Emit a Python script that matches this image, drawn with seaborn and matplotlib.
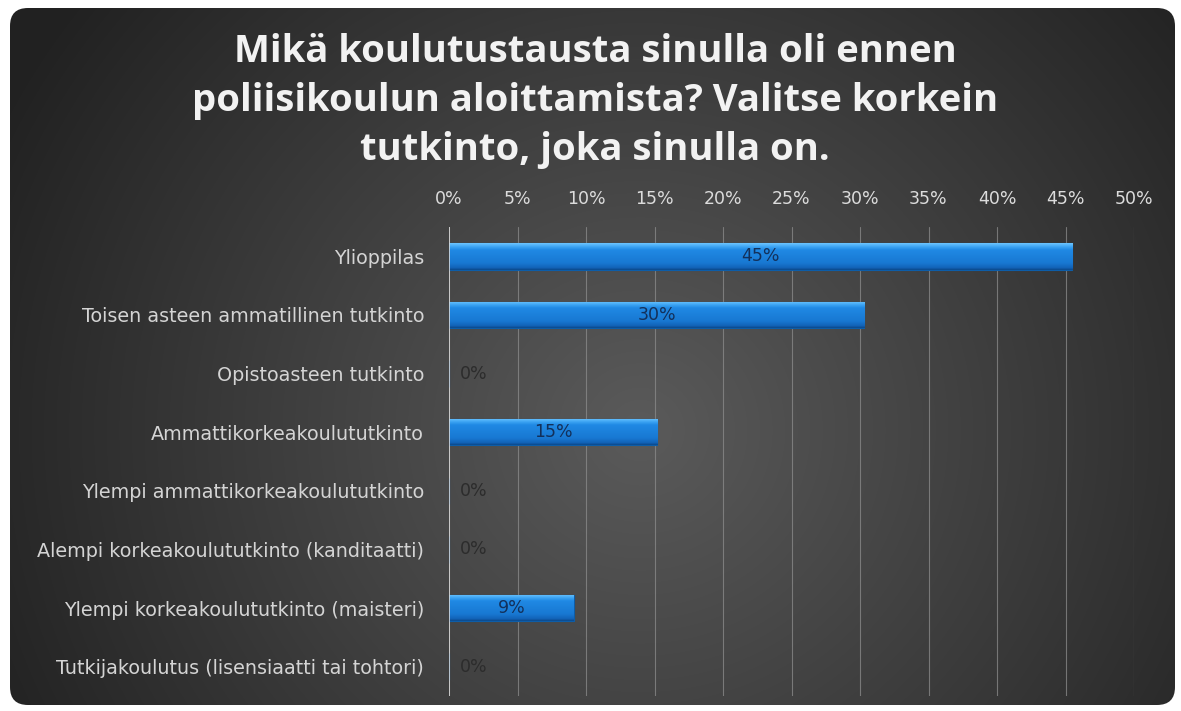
import numpy as np
import pandas as pd
import matplotlib
matplotlib.use("Agg")
import matplotlib.pyplot as plt
from matplotlib.patches import FancyBboxPatch
from matplotlib.colors import LinearSegmentedColormap
import seaborn as sns

categories = [
    "Ylioppilas",
    "Toisen asteen ammatillinen tutkinto",
    "Opistoasteen tutkinto",
    "Ammattikorkeakoulututkinto",
    "Ylempi ammattikorkeakoulututkinto",
    "Alempi korkeakoulututkinto (kanditaatti)",
    "Ylempi korkeakoulututkinto (maisteri)",
    "Tutkijakoulutus (lisensiaatti tai tohtori)",
]
values = [45.5, 30.3, 0.0, 15.2, 0.0, 0.0, 9.1, 0.0]
labels = ["45%", "30%", "0%", "15%", "0%", "0%", "9%", "0%"]
xticks = [0, 5, 10, 15, 20, 25, 30, 35, 40, 45, 50]
title = ("Mikä koulutustausta sinulla oli ennen\n"
         "poliisikoulun aloittamista? Valitse korkein\n"
         "tutkinto, joka sinulla on.")

df = pd.DataFrame({"cat": categories, "val": values})

sns.set_theme(style="white")
plt.rcParams['font.family'] = ['DejaVu Sans']

fig = plt.figure(figsize=(11.81, 7.11), dpi=100)
fig.patch.set_facecolor("white")

# background with radial gradient inside rounded rectangle
bg = fig.add_axes([0, 0, 1, 1], zorder=0)
bg.set_xlim(0, 1181)
bg.set_ylim(711, 0)
bg.axis("off")
yy, xx = np.mgrid[0:711, 0:1181]
r = np.sqrt(((xx - 640) / 640.0) ** 2 + ((yy - 430) / 620.0) ** 2)
g = np.clip(0.355 - 0.20 * r, 0.13, 0.40)
img = np.dstack([g, g, g])
im = bg.imshow(img, extent=(0, 1181, 711, 0), aspect="auto")
box = FancyBboxPatch((10, 8), 1165, 697, boxstyle="round,pad=0,rounding_size=18",
                     transform=bg.transData, facecolor="none", edgecolor="none")
bg.add_patch(box)
im.set_clip_path(box)

ax = fig.add_axes([449 / 1181, 1 - 696 / 711, (1134 - 449) / 1181, (696 - 227) / 711], zorder=1)
ax.patch.set_alpha(0)

sns.barplot(data=df, x="val", y="cat", orient="h", color="#1f86de", width=0.45,
            edgecolor="#0d5da8", linewidth=0.8, saturation=1, ax=ax, zorder=3)

ax.set_xlim(0, 50)
ax.set_xticks(xticks)
ax.set_xticklabels([f"{t}%" for t in xticks])
ax.xaxis.tick_top()
ax.tick_params(axis="x", length=0, pad=14, labelsize=12.5, labelcolor="#dcdcdc")
ax.tick_params(axis="y", length=0, pad=18, labelsize=13.8, labelcolor="#d4d4d4")
ax.set_xlabel("")
ax.set_ylabel("")
for s in ax.spines.values():
    s.set_visible(False)
ax.grid(axis="x", color="#8c8c8c", linewidth=0.8, alpha=0.75, zorder=0)
ax.grid(axis="y", visible=False)
ax.axvline(0, color="#d8d8d8", linewidth=1.2, zorder=4)

# bevel-like vertical gradient fill on each bar (clipped to the bar patch)
bar_cmap = LinearSegmentedColormap.from_list(
    "bev", [(0.0, "#6cc4ff"), (0.14, "#3aa2f2"), (0.25, "#2089e4"),
            (0.75, "#1878d2"), (0.92, "#1263b8"), (1.0, "#0c4a8c")])
grad = np.linspace(0, 1, 64).reshape(-1, 1)
for p in ax.patches:
    if p.get_width() <= 0:
        continue
    x0, y0 = p.get_x(), p.get_y()
    w, h = p.get_width(), p.get_height()
    gi = ax.imshow(grad, cmap=bar_cmap, aspect="auto",
                   extent=(x0, x0 + w, y0 + h, y0), origin="upper", zorder=3.5)
    gi.set_clip_path(p)
ax.set_xlim(0, 50)
ax.set_ylim(len(categories) - 0.5, -0.5)

for i, (v, lab) in enumerate(zip(values, labels)):
    if v > 0:
        ax.text(v / 2, i, lab, ha="center", va="center", fontsize=12.5,
                color="#13305a", zorder=5)
    else:
        ax.text(0.8, i, lab, ha="left", va="center", fontsize=12.5,
                color="#2c2c2c", zorder=5)

fig.text(0.504, 1 - 101 / 711, title, ha="center", va="center", fontsize=27.5,
         fontweight="bold", color="#f2f2f2", linespacing=1.38,
         family=["Open Sans", "DejaVu Sans"])

fig.savefig("out.png", dpi=100)
